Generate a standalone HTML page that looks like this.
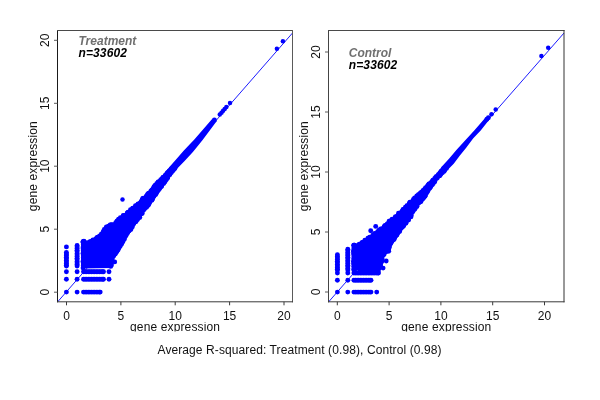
<!DOCTYPE html>
<html><head><meta charset="utf-8"><title>plot</title>
<style>
html,body{margin:0;padding:0;background:#fff;}
svg{display:block;}
text{filter:grayscale(1);}
.t{font-family:"Liberation Sans",sans-serif;font-size:12px;fill:#111;}
.b{font-family:"Liberation Sans",sans-serif;font-size:12px;font-weight:bold;font-style:italic;}
</style></head><body>
<svg width="600" height="400" viewBox="0 0 600 400">
<defs><clipPath id="xc"><rect x="0" y="322.4" width="600" height="9.1"/></clipPath></defs>
<rect width="600" height="400" fill="#fff"/>
<line x1="57.5" y1="302" x2="292.5" y2="33" stroke="#1c1cff" stroke-width="1"/>
<polygon fill="#0000ff" points="81.9,268.4 81.9,241 82.7,240 83.9,240 86.1,242.1 89.9,239.7 94.9,237.2 100.1,233.9 101.3,232 104.2,227.6 108.4,223.3 114.5,222.5 120.6,215.7 125.5,212.6 131.6,207.6 138.1,201.4 144.9,194.7 150.7,188.8 154.3,183.5 162.6,175.6 169.4,166.9 176.9,158.6 183.4,151.1 190.5,143.6 193.9,139.9 212.1,118.9 216.8,121.1 202.6,140.1 199,144.6 192.9,152.1 184.6,161.1 177.8,167.9 171.2,175.5 165.1,184.5 159.3,192 154.5,199.5 146.3,210 141.8,216 138,222 134.9,225.8 131.8,230.8 126.8,237 124.2,242.1 121.1,247.7 118,253.9 114.2,257 113.4,261.9 112.9,266.3 111.7,267.9"/>
<g fill="#0000ff"><circle cx="282.9" cy="41.3" r="2.25"/><circle cx="276.9" cy="48.7" r="2.25"/><circle cx="122.5" cy="199.4" r="2.25"/><circle cx="230" cy="103" r="2.25"/><circle cx="219.8" cy="114.6" r="2.25"/><circle cx="221.5" cy="112.7" r="2.25"/><circle cx="223.1" cy="110.8" r="2.25"/><circle cx="224.7" cy="108.9" r="2.25"/><circle cx="226.4" cy="107.1" r="2.25"/></g>
<g fill="#0000ff"><circle cx="83.1" cy="268" r="2.45"/><circle cx="83.6" cy="266.3" r="2.45"/><circle cx="83.6" cy="264.1" r="2.45"/><circle cx="83" cy="261.6" r="2.45"/><circle cx="84" cy="259.9" r="2.45"/><circle cx="83.8" cy="259.5" r="2.45"/><circle cx="83.5" cy="257.1" r="2.45"/><circle cx="84.1" cy="255.3" r="2.45"/><circle cx="83.1" cy="253.3" r="2.45"/><circle cx="83.2" cy="250.7" r="2.45"/><circle cx="83.4" cy="249.1" r="2.45"/><circle cx="83" cy="247.9" r="2.45"/><circle cx="83.5" cy="245.1" r="2.45"/><circle cx="83.5" cy="243.4" r="2.45"/><circle cx="83.9" cy="241.2" r="2.45"/><circle cx="83.6" cy="241.8" r="2.45"/><circle cx="82.9" cy="242.1" r="2.45"/><circle cx="83.1" cy="242" r="2.45"/><circle cx="84.8" cy="242.2" r="2.45"/><circle cx="87.5" cy="243.3" r="2.45"/><circle cx="88.8" cy="242.4" r="2.45"/><circle cx="90.3" cy="241.5" r="2.45"/><circle cx="92.8" cy="240.4" r="2.45"/><circle cx="93" cy="240" r="2.45"/><circle cx="95.8" cy="239.4" r="2.45"/><circle cx="96" cy="238.6" r="2.45"/><circle cx="97.1" cy="237.4" r="2.45"/><circle cx="98" cy="237.2" r="2.45"/><circle cx="99.6" cy="235.9" r="2.45"/><circle cx="101.3" cy="234.2" r="2.45"/><circle cx="102.8" cy="233.8" r="2.45"/><circle cx="103.2" cy="231.6" r="2.45"/><circle cx="104.5" cy="231.6" r="2.45"/><circle cx="104.3" cy="229.5" r="2.45"/><circle cx="105.8" cy="228.5" r="2.45"/><circle cx="106.4" cy="226.9" r="2.45"/><circle cx="108.5" cy="226.2" r="2.45"/><circle cx="110.6" cy="224.8" r="2.45"/><circle cx="112.1" cy="224.8" r="2.45"/><circle cx="115.4" cy="224.4" r="2.45"/><circle cx="115.7" cy="222.8" r="2.45"/><circle cx="116.9" cy="221.1" r="2.45"/><circle cx="117.7" cy="220.6" r="2.45"/><circle cx="118.6" cy="219.2" r="2.45"/><circle cx="120.4" cy="217.6" r="2.45"/><circle cx="123.3" cy="215.6" r="2.45"/><circle cx="123.5" cy="215.5" r="2.45"/><circle cx="125.6" cy="215.5" r="2.45"/><circle cx="127.2" cy="212.9" r="2.45"/><circle cx="128" cy="212.3" r="2.45"/><circle cx="130.5" cy="209.7" r="2.45"/><circle cx="132.7" cy="208.4" r="2.45"/><circle cx="132.8" cy="208.2" r="2.45"/><circle cx="135.8" cy="206.7" r="2.45"/><circle cx="135.5" cy="205.6" r="2.45"/><circle cx="137.7" cy="204.6" r="2.45"/><circle cx="138.1" cy="203.9" r="2.45"/><circle cx="141.1" cy="201.7" r="2.45"/><circle cx="142.1" cy="199.9" r="2.45"/><circle cx="142.6" cy="198.7" r="2.45"/><circle cx="143.2" cy="198.3" r="2.45"/><circle cx="146.3" cy="196.3" r="2.45"/><circle cx="147.4" cy="194.9" r="2.45"/><circle cx="147.7" cy="194.2" r="2.45"/><circle cx="148.6" cy="193.3" r="2.45"/><circle cx="150.8" cy="191.2" r="2.45"/><circle cx="151.7" cy="190.1" r="2.45"/><circle cx="152.9" cy="188.8" r="2.45"/><circle cx="154" cy="186.7" r="2.45"/><circle cx="155.2" cy="185.1" r="2.45"/><circle cx="156.8" cy="183.4" r="2.45"/><circle cx="158.3" cy="182" r="2.45"/><circle cx="158.4" cy="182" r="2.45"/><circle cx="160.7" cy="179.8" r="2.45"/><circle cx="162.5" cy="178.1" r="2.45"/><circle cx="163.1" cy="177.3" r="2.45"/><circle cx="165.1" cy="175.5" r="2.45"/><circle cx="166.3" cy="174.4" r="2.45"/><circle cx="167.3" cy="173" r="2.45"/><circle cx="167.9" cy="172.4" r="2.45"/><circle cx="169.2" cy="171" r="2.45"/><circle cx="171.3" cy="168.9" r="2.45"/><circle cx="174.9" cy="168.5" r="2.45"/><circle cx="173.3" cy="170.3" r="2.45"/><circle cx="172.5" cy="171.1" r="2.45"/><circle cx="171.4" cy="172.5" r="2.45"/><circle cx="169.9" cy="174.5" r="2.45"/><circle cx="169.7" cy="174.4" r="2.45"/><circle cx="167.9" cy="177" r="2.45"/><circle cx="167.5" cy="178.2" r="2.45"/><circle cx="166.4" cy="179.5" r="2.45"/><circle cx="165.2" cy="181.2" r="2.45"/><circle cx="164.7" cy="182" r="2.45"/><circle cx="163.7" cy="183.6" r="2.45"/><circle cx="161.5" cy="186.3" r="2.45"/><circle cx="161.4" cy="186.6" r="2.45"/><circle cx="159.8" cy="188.6" r="2.45"/><circle cx="158.6" cy="189.9" r="2.45"/><circle cx="157.5" cy="191.2" r="2.45"/><circle cx="156.8" cy="192.5" r="2.45"/><circle cx="155.8" cy="194.4" r="2.45"/><circle cx="154.1" cy="196" r="2.45"/><circle cx="153.7" cy="196.4" r="2.45"/><circle cx="152.3" cy="199.2" r="2.45"/><circle cx="151.9" cy="200.2" r="2.45"/><circle cx="149.7" cy="202.7" r="2.45"/><circle cx="148.5" cy="204.2" r="2.45"/><circle cx="148.3" cy="205.3" r="2.45"/><circle cx="146.6" cy="207.3" r="2.45"/><circle cx="145.4" cy="207.4" r="2.45"/><circle cx="144.2" cy="209.4" r="2.45"/><circle cx="143.1" cy="210.3" r="2.45"/><circle cx="142.2" cy="213.5" r="2.45"/><circle cx="140.8" cy="213.7" r="2.45"/><circle cx="139.5" cy="215.6" r="2.45"/><circle cx="139.8" cy="217.5" r="2.45"/><circle cx="137.6" cy="219.4" r="2.45"/><circle cx="137" cy="219.3" r="2.45"/><circle cx="136.1" cy="221.5" r="2.45"/><circle cx="135.3" cy="221.9" r="2.45"/><circle cx="133.7" cy="223.7" r="2.45"/><circle cx="132.8" cy="224.6" r="2.45"/><circle cx="132.3" cy="226.9" r="2.45"/><circle cx="130.9" cy="229.6" r="2.45"/><circle cx="129.1" cy="230.9" r="2.45"/><circle cx="127.4" cy="233.2" r="2.45"/><circle cx="126.5" cy="234.4" r="2.45"/><circle cx="125.6" cy="236.2" r="2.45"/><circle cx="124.2" cy="237.5" r="2.45"/><circle cx="124.5" cy="239.1" r="2.45"/><circle cx="123" cy="241.5" r="2.45"/><circle cx="122.4" cy="241.9" r="2.45"/><circle cx="121.4" cy="242.5" r="2.45"/><circle cx="121.5" cy="244.3" r="2.45"/><circle cx="120.1" cy="246.6" r="2.45"/><circle cx="118.6" cy="248" r="2.45"/><circle cx="118.3" cy="249.5" r="2.45"/><circle cx="117.1" cy="251.2" r="2.45"/><circle cx="116.7" cy="251.4" r="2.45"/><circle cx="115.3" cy="254" r="2.45"/><circle cx="114.1" cy="254.9" r="2.45"/><circle cx="113.7" cy="256" r="2.45"/><circle cx="112.7" cy="256.8" r="2.45"/><circle cx="112" cy="258.6" r="2.45"/><circle cx="112.1" cy="259.7" r="2.45"/><circle cx="111.4" cy="262" r="2.45"/><circle cx="111.5" cy="264.9" r="2.45"/><circle cx="110.7" cy="266.4" r="2.45"/><circle cx="66.4" cy="246.9" r="2.45"/><circle cx="66.4" cy="252.4" r="2.45"/><circle cx="66.4" cy="254" r="2.45"/><circle cx="66.4" cy="255.6" r="2.45"/><circle cx="66.4" cy="257.2" r="2.45"/><circle cx="66.4" cy="258.8" r="2.45"/><circle cx="66.4" cy="260.4" r="2.45"/><circle cx="66.4" cy="262" r="2.45"/><circle cx="66.4" cy="263.6" r="2.45"/><circle cx="66.4" cy="265.2" r="2.45"/><circle cx="66.4" cy="266" r="2.45"/><circle cx="66.4" cy="271.8" r="2.45"/><circle cx="66.4" cy="279.3" r="2.45"/><circle cx="66.4" cy="292.1" r="2.45"/><circle cx="77.1" cy="245.4" r="2.45"/><circle cx="77.1" cy="247" r="2.45"/><circle cx="77.1" cy="248.6" r="2.45"/><circle cx="77.1" cy="250.2" r="2.45"/><circle cx="77.1" cy="251.8" r="2.45"/><circle cx="77.1" cy="253.4" r="2.45"/><circle cx="77.1" cy="255" r="2.45"/><circle cx="77.1" cy="256.6" r="2.45"/><circle cx="77.1" cy="258.2" r="2.45"/><circle cx="77.1" cy="259.8" r="2.45"/><circle cx="77.1" cy="261.4" r="2.45"/><circle cx="77.1" cy="263" r="2.45"/><circle cx="77.1" cy="264.6" r="2.45"/><circle cx="77.1" cy="266" r="2.45"/><circle cx="77.1" cy="271.8" r="2.45"/><circle cx="77.1" cy="279.3" r="2.45"/><circle cx="77.1" cy="292.1" r="2.45"/><circle cx="83.4" cy="241.4" r="2.45"/><circle cx="83.4" cy="243" r="2.45"/><circle cx="83.4" cy="244.6" r="2.45"/><circle cx="83.4" cy="246.2" r="2.45"/><circle cx="83.4" cy="247.8" r="2.45"/><circle cx="83.4" cy="249.4" r="2.45"/><circle cx="83.4" cy="251" r="2.45"/><circle cx="83.4" cy="252.6" r="2.45"/><circle cx="83.4" cy="254.2" r="2.45"/><circle cx="83.4" cy="255.8" r="2.45"/><circle cx="83.4" cy="257.4" r="2.45"/><circle cx="83.4" cy="259" r="2.45"/><circle cx="83.4" cy="260.6" r="2.45"/><circle cx="83.4" cy="262.2" r="2.45"/><circle cx="83.4" cy="263.8" r="2.45"/><circle cx="83.4" cy="265.4" r="2.45"/><circle cx="83.4" cy="266" r="2.45"/><circle cx="83.5" cy="271.8" r="2.45"/><circle cx="85.1" cy="271.8" r="2.45"/><circle cx="86.7" cy="271.8" r="2.45"/><circle cx="88.3" cy="271.8" r="2.45"/><circle cx="89.9" cy="271.8" r="2.45"/><circle cx="91.5" cy="271.8" r="2.45"/><circle cx="93.1" cy="271.8" r="2.45"/><circle cx="94.7" cy="271.8" r="2.45"/><circle cx="96.3" cy="271.8" r="2.45"/><circle cx="97.9" cy="271.8" r="2.45"/><circle cx="99.5" cy="271.8" r="2.45"/><circle cx="101.1" cy="271.8" r="2.45"/><circle cx="102.7" cy="271.8" r="2.45"/><circle cx="103.5" cy="271.8" r="2.45"/><circle cx="109" cy="271.8" r="2.45"/><circle cx="83.5" cy="279.3" r="2.45"/><circle cx="85.1" cy="279.3" r="2.45"/><circle cx="86.7" cy="279.3" r="2.45"/><circle cx="88.3" cy="279.3" r="2.45"/><circle cx="89.9" cy="279.3" r="2.45"/><circle cx="91.5" cy="279.3" r="2.45"/><circle cx="93.1" cy="279.3" r="2.45"/><circle cx="94.7" cy="279.3" r="2.45"/><circle cx="96.3" cy="279.3" r="2.45"/><circle cx="97.9" cy="279.3" r="2.45"/><circle cx="99.5" cy="279.3" r="2.45"/><circle cx="101.1" cy="279.3" r="2.45"/><circle cx="102.7" cy="279.3" r="2.45"/><circle cx="103.5" cy="279.3" r="2.45"/><circle cx="109" cy="279.3" r="2.45"/><circle cx="83.5" cy="292.1" r="2.45"/><circle cx="85.1" cy="292.1" r="2.45"/><circle cx="86.7" cy="292.1" r="2.45"/><circle cx="88.3" cy="292.1" r="2.45"/><circle cx="89.9" cy="292.1" r="2.45"/><circle cx="91.5" cy="292.1" r="2.45"/><circle cx="93.1" cy="292.1" r="2.45"/><circle cx="94.7" cy="292.1" r="2.45"/><circle cx="96.3" cy="292.1" r="2.45"/><circle cx="97.9" cy="292.1" r="2.45"/><circle cx="99.5" cy="292.1" r="2.45"/><circle cx="100.2" cy="292.1" r="2.45"/><circle cx="114.7" cy="261.9" r="2.45"/><circle cx="214.4" cy="120" r="2.45"/></g>
<line x1="57.5" y1="30.0" x2="57.5" y2="302.3" stroke="#1a1a1a"/>
<line x1="57.0" y1="30.5" x2="293.0" y2="30.5" stroke="#4a4a4a"/>
<line x1="292.5" y1="30.0" x2="292.5" y2="302.3" stroke="#5a5a5a"/>
<line x1="57.0" y1="301.8" x2="293.0" y2="301.8" stroke="#3a3a3a"/>
<line x1="66.5" y1="301.8" x2="66.5" y2="305.3" stroke="#3a3a3a" stroke-width="1"/>
<line x1="57.5" y1="292.2" x2="54.0" y2="292.2" stroke="#5a5a5a" stroke-width="1"/>
<text x="66.5" y="319.9" text-anchor="middle" class="t">0</text>
<text transform="translate(48.8,292.2) rotate(-90)" text-anchor="middle" class="t">0</text>
<line x1="120.9" y1="301.8" x2="120.9" y2="305.3" stroke="#3a3a3a" stroke-width="1"/>
<line x1="57.5" y1="229.2" x2="54.0" y2="229.2" stroke="#5a5a5a" stroke-width="1"/>
<text x="120.9" y="319.9" text-anchor="middle" class="t">5</text>
<text transform="translate(48.8,229.2) rotate(-90)" text-anchor="middle" class="t">5</text>
<line x1="175.2" y1="301.8" x2="175.2" y2="305.3" stroke="#3a3a3a" stroke-width="1"/>
<line x1="57.5" y1="166.2" x2="54.0" y2="166.2" stroke="#5a5a5a" stroke-width="1"/>
<text x="175.2" y="319.9" text-anchor="middle" class="t">10</text>
<text transform="translate(48.8,166.2) rotate(-90)" text-anchor="middle" class="t">10</text>
<line x1="229.6" y1="301.8" x2="229.6" y2="305.3" stroke="#3a3a3a" stroke-width="1"/>
<line x1="57.5" y1="103.3" x2="54.0" y2="103.3" stroke="#5a5a5a" stroke-width="1"/>
<text x="229.6" y="319.9" text-anchor="middle" class="t">15</text>
<text transform="translate(48.8,103.3) rotate(-90)" text-anchor="middle" class="t">15</text>
<line x1="284" y1="301.8" x2="284" y2="305.3" stroke="#3a3a3a" stroke-width="1"/>
<line x1="57.5" y1="40.3" x2="54.0" y2="40.3" stroke="#5a5a5a" stroke-width="1"/>
<text x="284" y="319.9" text-anchor="middle" class="t">20</text>
<text transform="translate(48.8,40.3) rotate(-90)" text-anchor="middle" class="t">20</text>
<g clip-path="url(#xc)"><text x="175" y="331.0" text-anchor="middle" class="t" textLength="90" lengthAdjust="spacing">gene expression</text></g>
<text transform="translate(37,166.2) rotate(-90)" text-anchor="middle" class="t" textLength="90" lengthAdjust="spacing">gene expression</text>
<text x="78.5" y="44.9" class="b" fill="#707070">Treatment</text>
<text x="78.5" y="56.9" class="b" fill="#000" textLength="48.4" lengthAdjust="spacing">n=33602</text>
<line x1="328.5" y1="302" x2="564" y2="33" stroke="#1c1cff" stroke-width="1"/>
<polygon fill="#0000ff" points="352.3,270.3 352.3,245 353,243.9 354.7,243.9 356.8,245.4 360.5,240.8 364.7,239 367.8,236.9 381.1,227.3 387.1,221.4 394.6,215.2 397.6,212.7 403.6,207.1 411.1,199.6 418.6,192.2 420.8,190.6 427.7,183.1 435.2,175.6 441.9,166.6 449.2,158.4 456.4,150.1 463.7,141.9 471.5,133.6 474.7,129.9 485.1,117.9 488.6,120.4 480.7,130.4 473.3,138.3 466,148.1 459.9,155.6 453.7,163.8 445.6,172.1 438.3,179.2 433.8,185.6 429.2,192 425.1,199.5 419,205.7 414.4,212.5 411,218.5 406.5,225.1 402,230.7 398,236.4 394.9,240.7 391.7,245.9 389.9,251.4 386.3,253.8 383.7,257.7 382.9,262.4 382.6,265.7 380.2,270.1"/>
<rect x="357.5" y="267" width="23" height="5" fill="#0000ff"/>
<g fill="#0000ff"><circle cx="548.2" cy="47.7" r="2.25"/><circle cx="541.4" cy="56.1" r="2.25"/><circle cx="495.7" cy="109.6" r="2.25"/><circle cx="491.5" cy="114.2" r="2.25"/></g>
<g fill="#0000ff"><circle cx="354.5" cy="269.7" r="2.45"/><circle cx="354.6" cy="266.1" r="2.45"/><circle cx="354.4" cy="266.5" r="2.45"/><circle cx="353.7" cy="263.7" r="2.45"/><circle cx="353.6" cy="261.5" r="2.45"/><circle cx="354" cy="261.6" r="2.45"/><circle cx="354.4" cy="259.3" r="2.45"/><circle cx="354.3" cy="255.8" r="2.45"/><circle cx="354" cy="253.7" r="2.45"/><circle cx="354" cy="254" r="2.45"/><circle cx="353.5" cy="251.6" r="2.45"/><circle cx="354.4" cy="249.3" r="2.45"/><circle cx="354.4" cy="246.9" r="2.45"/><circle cx="354.3" cy="245.8" r="2.45"/><circle cx="353.8" cy="245.1" r="2.45"/><circle cx="354.1" cy="245.3" r="2.45"/><circle cx="354.5" cy="245.2" r="2.45"/><circle cx="356.5" cy="246" r="2.45"/><circle cx="358.5" cy="245.1" r="2.45"/><circle cx="359.2" cy="244.3" r="2.45"/><circle cx="362" cy="242.6" r="2.45"/><circle cx="363.3" cy="242.2" r="2.45"/><circle cx="364.9" cy="240.3" r="2.45"/><circle cx="366.6" cy="240.1" r="2.45"/><circle cx="367.9" cy="238.1" r="2.45"/><circle cx="369.7" cy="237.3" r="2.45"/><circle cx="370.5" cy="237.2" r="2.45"/><circle cx="372.9" cy="235.3" r="2.45"/><circle cx="373.8" cy="234.6" r="2.45"/><circle cx="374.5" cy="233.4" r="2.45"/><circle cx="377.6" cy="231.6" r="2.45"/><circle cx="379.7" cy="230.8" r="2.45"/><circle cx="379" cy="230.1" r="2.45"/><circle cx="380.6" cy="229" r="2.45"/><circle cx="382.5" cy="228.8" r="2.45"/><circle cx="384.2" cy="226.4" r="2.45"/><circle cx="385.1" cy="225.4" r="2.45"/><circle cx="385.6" cy="225.6" r="2.45"/><circle cx="387.2" cy="223.9" r="2.45"/><circle cx="389.1" cy="221.3" r="2.45"/><circle cx="390" cy="221" r="2.45"/><circle cx="393.1" cy="219.5" r="2.45"/><circle cx="392.1" cy="219.2" r="2.45"/><circle cx="395.5" cy="216.7" r="2.45"/><circle cx="395.5" cy="217.1" r="2.45"/><circle cx="398.9" cy="214.8" r="2.45"/><circle cx="398.5" cy="213.2" r="2.45"/><circle cx="400.8" cy="212.8" r="2.45"/><circle cx="402.2" cy="211.3" r="2.45"/><circle cx="403" cy="209.5" r="2.45"/><circle cx="404.2" cy="209.2" r="2.45"/><circle cx="405.4" cy="207.1" r="2.45"/><circle cx="406.6" cy="207.1" r="2.45"/><circle cx="406.9" cy="205.8" r="2.45"/><circle cx="409.2" cy="203.5" r="2.45"/><circle cx="409.9" cy="202.3" r="2.45"/><circle cx="412.3" cy="201.7" r="2.45"/><circle cx="413.4" cy="199.4" r="2.45"/><circle cx="414.5" cy="199.6" r="2.45"/><circle cx="414.6" cy="198" r="2.45"/><circle cx="416.8" cy="196" r="2.45"/><circle cx="418.7" cy="194.7" r="2.45"/><circle cx="418.5" cy="194.6" r="2.45"/><circle cx="420.4" cy="193" r="2.45"/><circle cx="421.7" cy="191.9" r="2.45"/><circle cx="423.1" cy="190.7" r="2.45"/><circle cx="423.4" cy="190.4" r="2.45"/><circle cx="424.8" cy="189" r="2.45"/><circle cx="425.6" cy="187.8" r="2.45"/><circle cx="427.5" cy="185.9" r="2.45"/><circle cx="428.1" cy="185.2" r="2.45"/><circle cx="428.9" cy="184" r="2.45"/><circle cx="430.8" cy="182.7" r="2.45"/><circle cx="432.5" cy="181" r="2.45"/><circle cx="432.9" cy="180.3" r="2.45"/><circle cx="434.7" cy="178.4" r="2.45"/><circle cx="435.6" cy="177.5" r="2.45"/><circle cx="436.4" cy="176.5" r="2.45"/><circle cx="438.2" cy="174.8" r="2.45"/><circle cx="440" cy="172.6" r="2.45"/><circle cx="441.3" cy="171.4" r="2.45"/><circle cx="441.5" cy="171.1" r="2.45"/><circle cx="443.7" cy="168.5" r="2.45"/><circle cx="446.4" cy="168.4" r="2.45"/><circle cx="444.6" cy="170.5" r="2.45"/><circle cx="444" cy="171.4" r="2.45"/><circle cx="442.4" cy="172.8" r="2.45"/><circle cx="440.7" cy="174.4" r="2.45"/><circle cx="439.8" cy="175.6" r="2.45"/><circle cx="439.4" cy="175.9" r="2.45"/><circle cx="437.4" cy="177.7" r="2.45"/><circle cx="436.6" cy="178.4" r="2.45"/><circle cx="434.8" cy="181.4" r="2.45"/><circle cx="434.4" cy="181.9" r="2.45"/><circle cx="433.3" cy="183.5" r="2.45"/><circle cx="432.3" cy="184.8" r="2.45"/><circle cx="430.9" cy="186.5" r="2.45"/><circle cx="429.8" cy="188.2" r="2.45"/><circle cx="428.1" cy="190.4" r="2.45"/><circle cx="427.6" cy="191.5" r="2.45"/><circle cx="426.6" cy="193.1" r="2.45"/><circle cx="425.6" cy="194.7" r="2.45"/><circle cx="425.1" cy="196.3" r="2.45"/><circle cx="424" cy="197.4" r="2.45"/><circle cx="422.9" cy="198.7" r="2.45"/><circle cx="421.1" cy="200.9" r="2.45"/><circle cx="420.8" cy="201.8" r="2.45"/><circle cx="418.7" cy="203" r="2.45"/><circle cx="417.6" cy="203.6" r="2.45"/><circle cx="416.7" cy="206.3" r="2.45"/><circle cx="416.9" cy="206.5" r="2.45"/><circle cx="415" cy="207.7" r="2.45"/><circle cx="414.8" cy="209.2" r="2.45"/><circle cx="413.2" cy="211.1" r="2.45"/><circle cx="412.6" cy="211.9" r="2.45"/><circle cx="410.9" cy="214.5" r="2.45"/><circle cx="411.2" cy="215.4" r="2.45"/><circle cx="410.9" cy="216.9" r="2.45"/><circle cx="408.5" cy="218.9" r="2.45"/><circle cx="408.6" cy="220" r="2.45"/><circle cx="406" cy="222.5" r="2.45"/><circle cx="405.9" cy="223.2" r="2.45"/><circle cx="403.8" cy="224.9" r="2.45"/><circle cx="403.6" cy="225.9" r="2.45"/><circle cx="402.4" cy="227.3" r="2.45"/><circle cx="400.1" cy="229.6" r="2.45"/><circle cx="399.3" cy="231.2" r="2.45"/><circle cx="399.6" cy="231.4" r="2.45"/><circle cx="397.7" cy="233.3" r="2.45"/><circle cx="396.9" cy="235" r="2.45"/><circle cx="396.1" cy="235.4" r="2.45"/><circle cx="394.9" cy="237.4" r="2.45"/><circle cx="394.1" cy="239.4" r="2.45"/><circle cx="393.2" cy="239.6" r="2.45"/><circle cx="392.1" cy="241.3" r="2.45"/><circle cx="390.8" cy="243.6" r="2.45"/><circle cx="389.2" cy="246.6" r="2.45"/><circle cx="389.2" cy="247.7" r="2.45"/><circle cx="388.6" cy="250.1" r="2.45"/><circle cx="388.7" cy="251.2" r="2.45"/><circle cx="385.9" cy="251.9" r="2.45"/><circle cx="384.1" cy="254.6" r="2.45"/><circle cx="382.7" cy="255.8" r="2.45"/><circle cx="381.6" cy="256.8" r="2.45"/><circle cx="381.4" cy="258.9" r="2.45"/><circle cx="382.1" cy="258.8" r="2.45"/><circle cx="381.9" cy="260.9" r="2.45"/><circle cx="381.2" cy="262.3" r="2.45"/><circle cx="380.7" cy="263.3" r="2.45"/><circle cx="380.6" cy="266.9" r="2.45"/><circle cx="380.5" cy="266.2" r="2.45"/><circle cx="379.3" cy="268.4" r="2.45"/><circle cx="337.4" cy="254.8" r="2.45"/><circle cx="337.4" cy="256.4" r="2.45"/><circle cx="337.4" cy="258" r="2.45"/><circle cx="337.4" cy="259.6" r="2.45"/><circle cx="337.4" cy="261.2" r="2.45"/><circle cx="337.4" cy="262.8" r="2.45"/><circle cx="337.4" cy="264.4" r="2.45"/><circle cx="337.4" cy="266" r="2.45"/><circle cx="337.4" cy="267.6" r="2.45"/><circle cx="337.4" cy="269.2" r="2.45"/><circle cx="337.4" cy="270" r="2.45"/><circle cx="337.4" cy="273" r="2.45"/><circle cx="337.4" cy="280.2" r="2.45"/><circle cx="337.4" cy="292.1" r="2.45"/><circle cx="347.8" cy="249.2" r="2.45"/><circle cx="347.8" cy="250.8" r="2.45"/><circle cx="347.8" cy="252.4" r="2.45"/><circle cx="347.8" cy="254" r="2.45"/><circle cx="347.8" cy="255.6" r="2.45"/><circle cx="347.8" cy="257.2" r="2.45"/><circle cx="347.8" cy="258.8" r="2.45"/><circle cx="347.8" cy="260.4" r="2.45"/><circle cx="347.8" cy="262" r="2.45"/><circle cx="347.8" cy="263.6" r="2.45"/><circle cx="347.8" cy="265.2" r="2.45"/><circle cx="347.8" cy="266.8" r="2.45"/><circle cx="347.8" cy="268.4" r="2.45"/><circle cx="347.8" cy="270" r="2.45"/><circle cx="347.8" cy="273" r="2.45"/><circle cx="347.8" cy="280.2" r="2.45"/><circle cx="347.8" cy="292.1" r="2.45"/><circle cx="353.9" cy="245.5" r="2.45"/><circle cx="353.9" cy="247.1" r="2.45"/><circle cx="353.9" cy="248.7" r="2.45"/><circle cx="353.9" cy="250.3" r="2.45"/><circle cx="353.9" cy="251.9" r="2.45"/><circle cx="353.9" cy="253.5" r="2.45"/><circle cx="353.9" cy="255.1" r="2.45"/><circle cx="353.9" cy="256.7" r="2.45"/><circle cx="353.9" cy="258.3" r="2.45"/><circle cx="353.9" cy="259.9" r="2.45"/><circle cx="353.9" cy="261.5" r="2.45"/><circle cx="353.9" cy="263.1" r="2.45"/><circle cx="353.9" cy="264.7" r="2.45"/><circle cx="353.9" cy="266.3" r="2.45"/><circle cx="353.9" cy="267.9" r="2.45"/><circle cx="353.9" cy="269.5" r="2.45"/><circle cx="353.9" cy="270" r="2.45"/><circle cx="353.9" cy="273" r="2.45"/><circle cx="355.5" cy="273" r="2.45"/><circle cx="357.1" cy="273" r="2.45"/><circle cx="358.7" cy="273" r="2.45"/><circle cx="360.3" cy="273" r="2.45"/><circle cx="361.9" cy="273" r="2.45"/><circle cx="363.5" cy="273" r="2.45"/><circle cx="365.1" cy="273" r="2.45"/><circle cx="366.7" cy="273" r="2.45"/><circle cx="368.3" cy="273" r="2.45"/><circle cx="369.9" cy="273" r="2.45"/><circle cx="371.5" cy="273" r="2.45"/><circle cx="373.1" cy="273" r="2.45"/><circle cx="374.7" cy="273" r="2.45"/><circle cx="376.3" cy="273" r="2.45"/><circle cx="377.9" cy="273" r="2.45"/><circle cx="378.5" cy="273" r="2.45"/><circle cx="353.9" cy="280.2" r="2.45"/><circle cx="355.5" cy="280.2" r="2.45"/><circle cx="357.1" cy="280.2" r="2.45"/><circle cx="358.7" cy="280.2" r="2.45"/><circle cx="360.3" cy="280.2" r="2.45"/><circle cx="361.9" cy="280.2" r="2.45"/><circle cx="363.5" cy="280.2" r="2.45"/><circle cx="365.1" cy="280.2" r="2.45"/><circle cx="366.7" cy="280.2" r="2.45"/><circle cx="368.3" cy="280.2" r="2.45"/><circle cx="369.9" cy="280.2" r="2.45"/><circle cx="371" cy="280.2" r="2.45"/><circle cx="353.9" cy="292.1" r="2.45"/><circle cx="355.5" cy="292.1" r="2.45"/><circle cx="357.1" cy="292.1" r="2.45"/><circle cx="358.7" cy="292.1" r="2.45"/><circle cx="360.3" cy="292.1" r="2.45"/><circle cx="361.9" cy="292.1" r="2.45"/><circle cx="363.5" cy="292.1" r="2.45"/><circle cx="365.1" cy="292.1" r="2.45"/><circle cx="366.7" cy="292.1" r="2.45"/><circle cx="368.3" cy="292.1" r="2.45"/><circle cx="369.9" cy="292.1" r="2.45"/><circle cx="371" cy="292.1" r="2.45"/><circle cx="376.7" cy="292.1" r="2.45"/><circle cx="370.7" cy="230.8" r="2.45"/><circle cx="375.7" cy="226.4" r="2.45"/><circle cx="386.2" cy="261" r="2.45"/><circle cx="383.1" cy="268.1" r="2.45"/><circle cx="486.9" cy="119.2" r="2.45"/><circle cx="488.4" cy="117.7" r="2.45"/></g>
<line x1="328.5" y1="30.0" x2="328.5" y2="302.3" stroke="#444"/>
<line x1="328.0" y1="30.5" x2="564.5" y2="30.5" stroke="#4a4a4a"/>
<line x1="564" y1="30.0" x2="564" y2="302.3" stroke="#333"/>
<line x1="328.0" y1="301.8" x2="564.5" y2="301.8" stroke="#3a3a3a"/>
<line x1="337.3" y1="301.8" x2="337.3" y2="305.3" stroke="#3a3a3a" stroke-width="1"/>
<line x1="328.5" y1="292" x2="325.0" y2="292" stroke="#5a5a5a" stroke-width="1"/>
<text x="337.3" y="319.9" text-anchor="middle" class="t">0</text>
<text transform="translate(319.8,292) rotate(-90)" text-anchor="middle" class="t">0</text>
<line x1="389.1" y1="301.8" x2="389.1" y2="305.3" stroke="#3a3a3a" stroke-width="1"/>
<line x1="328.5" y1="232" x2="325.0" y2="232" stroke="#5a5a5a" stroke-width="1"/>
<text x="389.1" y="319.9" text-anchor="middle" class="t">5</text>
<text transform="translate(319.8,232) rotate(-90)" text-anchor="middle" class="t">5</text>
<line x1="440.9" y1="301.8" x2="440.9" y2="305.3" stroke="#3a3a3a" stroke-width="1"/>
<line x1="328.5" y1="172" x2="325.0" y2="172" stroke="#5a5a5a" stroke-width="1"/>
<text x="440.9" y="319.9" text-anchor="middle" class="t">10</text>
<text transform="translate(319.8,172) rotate(-90)" text-anchor="middle" class="t">10</text>
<line x1="492.7" y1="301.8" x2="492.7" y2="305.3" stroke="#3a3a3a" stroke-width="1"/>
<line x1="328.5" y1="112" x2="325.0" y2="112" stroke="#5a5a5a" stroke-width="1"/>
<text x="492.7" y="319.9" text-anchor="middle" class="t">15</text>
<text transform="translate(319.8,112) rotate(-90)" text-anchor="middle" class="t">15</text>
<line x1="544.5" y1="301.8" x2="544.5" y2="305.3" stroke="#3a3a3a" stroke-width="1"/>
<line x1="328.5" y1="52" x2="325.0" y2="52" stroke="#5a5a5a" stroke-width="1"/>
<text x="544.5" y="319.9" text-anchor="middle" class="t">20</text>
<text transform="translate(319.8,52) rotate(-90)" text-anchor="middle" class="t">20</text>
<g clip-path="url(#xc)"><text x="446.2" y="331.0" text-anchor="middle" class="t" textLength="90" lengthAdjust="spacing">gene expression</text></g>
<text transform="translate(308,166.2) rotate(-90)" text-anchor="middle" class="t" textLength="90" lengthAdjust="spacing">gene expression</text>
<text x="348.8" y="56.8" class="b" fill="#707070">Control</text>
<text x="348.8" y="68.5" class="b" fill="#000" textLength="48.4" lengthAdjust="spacing">n=33602</text>
<text x="299.5" y="354.3" text-anchor="middle" class="t" textLength="284" lengthAdjust="spacing">Average R-squared: Treatment (0.98), Control (0.98)</text>
</svg>
</body></html>
